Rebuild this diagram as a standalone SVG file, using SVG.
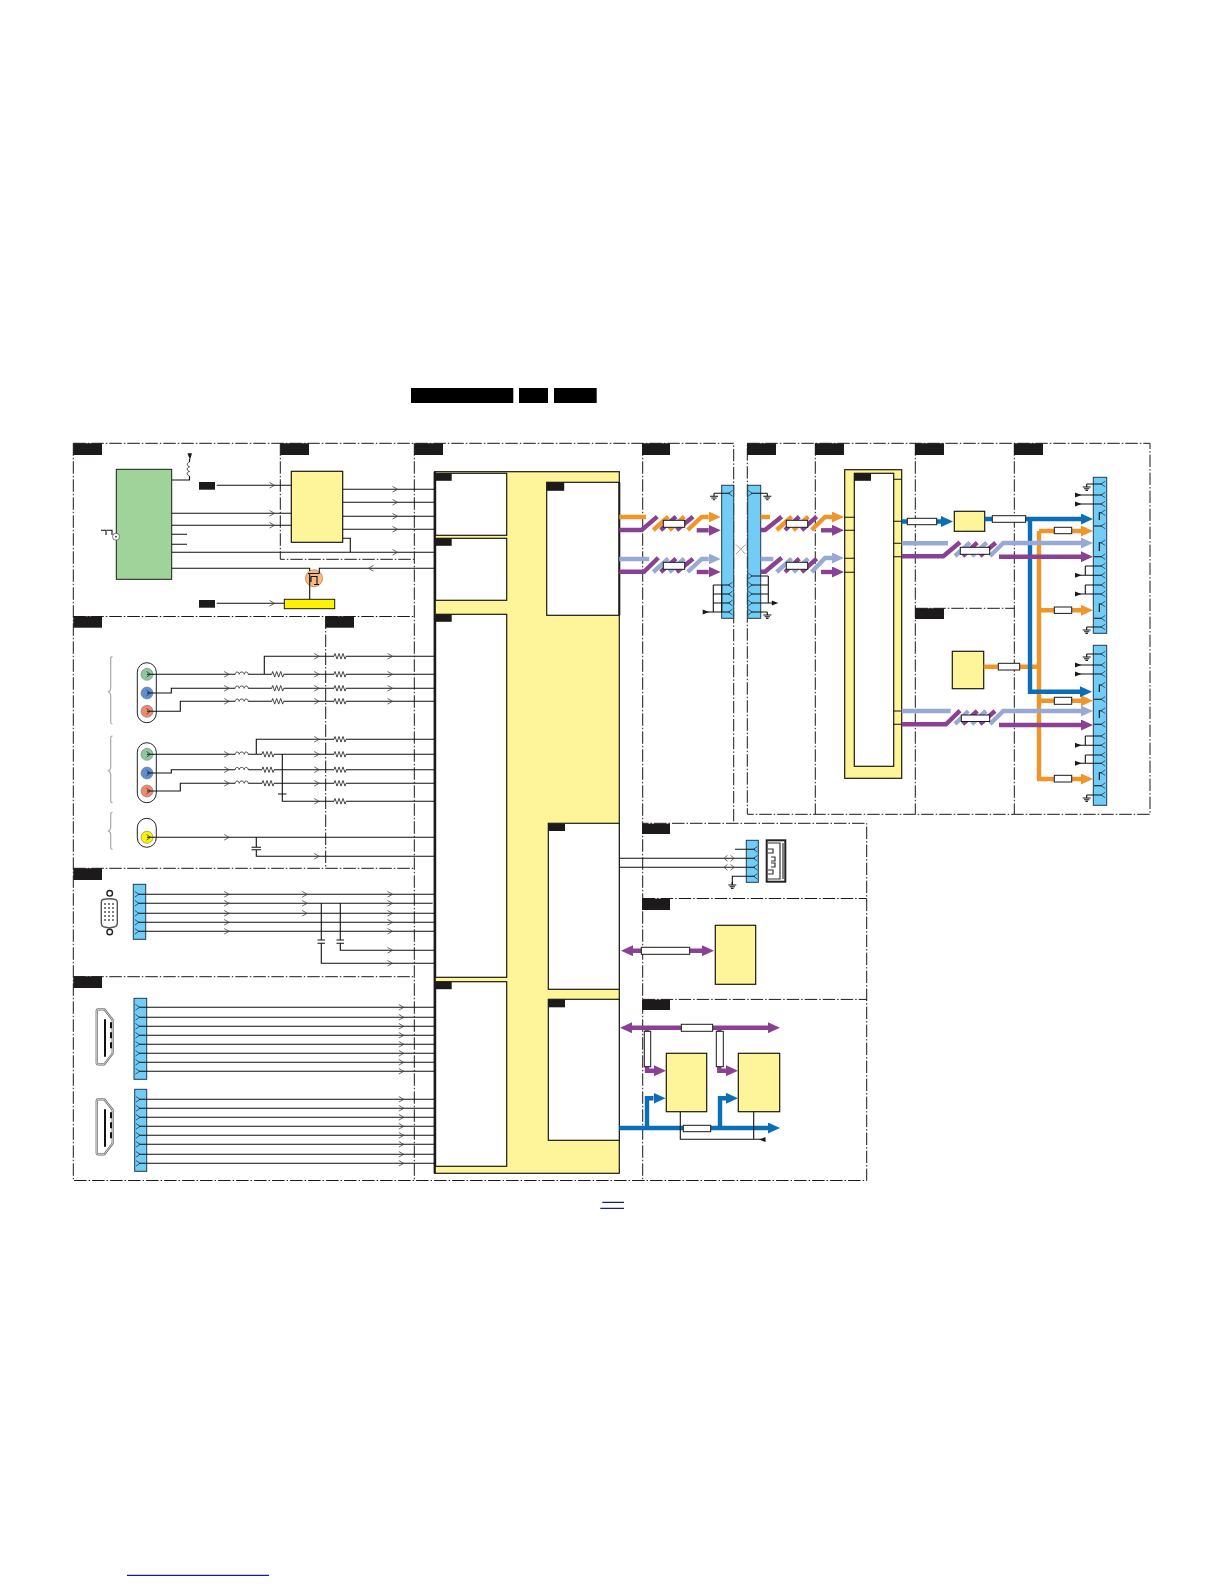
<svg xmlns="http://www.w3.org/2000/svg" width="1224" height="1584" viewBox="0 0 1224 1584">
<style>
.bg{fill:#fff}
.dd{fill:none;stroke:#1a1a1a;stroke-width:1;stroke-dasharray:12.5 2 1.5 2}
.tag{fill:#1c1a1a}
.y{fill:#fef59b;stroke:#1a1a12;stroke-width:1.2}
.w{fill:#fff;stroke:#1a1a12;stroke-width:1.2}
.c{fill:#72ccf3;stroke:#1d3b55;stroke-width:1}
.l{fill:none;stroke:#111;stroke-width:1.1}
.ch{fill:none;stroke:#444;stroke-width:.8}
.sk{fill:none;stroke:#1d3b55;stroke-width:.8}
.z{fill:none;stroke:#333;stroke-width:.9}
.wb{fill:none;stroke:#fff;stroke-width:3}
.b{fill:none;stroke-width:4.4}
.o{stroke:#f0952a}.p{stroke:#8a4093}.v{stroke:#97a9d4}.u{stroke:#0b6fb8}
.r{fill:#fff;stroke:#1a1a1a;stroke-width:1}
.tri{fill:#1a1a1a}
.gray{fill:none;stroke:#a8a8a8;stroke-width:1.2}
.link{stroke:#1a1a96;stroke-width:1.2;fill:none}
</style>
<defs>
<marker id="ao" markerUnits="userSpaceOnUse" markerWidth="12" markerHeight="11" refX="0" refY="5.5" orient="auto-start-reverse"><path d="M0,0L12,5.5L0,11Z" fill="#f0952a"/></marker>
<marker id="ap" markerUnits="userSpaceOnUse" markerWidth="12" markerHeight="11" refX="0" refY="5.5" orient="auto-start-reverse"><path d="M0,0L12,5.5L0,11Z" fill="#8a4093"/></marker>
<marker id="av" markerUnits="userSpaceOnUse" markerWidth="12" markerHeight="11" refX="0" refY="5.5" orient="auto-start-reverse"><path d="M0,0L12,5.5L0,11Z" fill="#97a9d4"/></marker>
<marker id="au" markerUnits="userSpaceOnUse" markerWidth="12" markerHeight="11" refX="0" refY="5.5" orient="auto-start-reverse"><path d="M0,0L12,5.5L0,11Z" fill="#0b6fb8"/></marker>
<path id="cr" class="ch" d="M-2.5,-2.8L2.5,0L-2.5,2.8"/>
<path id="cl" class="ch" d="M2.5,-2.8L-2.5,0L2.5,2.8"/>
<path id="sr" class="sk" d="M-2.5,-2.8L1.5,0L-2.5,2.8"/>
<path id="sl" class="sk" d="M2.5,-2.8L-1.5,0L2.5,2.8"/>
<g id="res"><path class="wb" d="M-6,0H6"/><path class="z" d="M-6,0l1,-2.8 2,5.6 2,-5.6 2,5.6 2,-5.6 2,5.6 1,-2.8"/></g>
<g id="coil"><path class="wb" d="M-6.5,0H6.5"/><path class="z" d="M-6.5,0c0,-3 4,-3 4,0c0,-3 5,-3 5,0c0,-3 4,-3 4,0"/></g>
<path id="gnd" class="l" d="M0,0V3M-4,3H4M-2.6,4.7H2.6M-1.2,6.4H1.2"/>
<path id="tl" class="tri" d="M0,0L6.5,-2.5V2.5Z"/>
<path id="tr" class="tri" d="M0,0L-6.5,-2.5V2.5Z"/>
<path id="dia" class="ch" d="M-5,0L-1.5,-3M-5,0L-1.5,3M5,0L1.5,-3M5,0L1.5,3"/>
<g id="hdmi"><path fill="#fff" stroke="#6a6a6a" stroke-width="2.2" stroke-linejoin="round" d="M96.7,1Q96.7,0 98,0H104.3L112.7,10.7V44L104.3,55H98Q96.7,55 96.7,54Z"/><path fill="none" stroke="#fff" stroke-width=".7" stroke-linejoin="round" d="M96.7,1Q96.7,0 98,0H104.3L112.7,10.7V44L104.3,55H98Q96.7,55 96.7,54Z"/><path d="M105,10V47.5" stroke="#111" stroke-width="2" fill="none"/><path d="M111,13V42" stroke="#111" stroke-width="2" stroke-dasharray="6 4" fill="none"/></g>
</defs>
<rect class="bg" width="1224" height="1584"/>

<g id="header">
<rect x="411" y="388" width="102.3" height="15" fill="#000"/>
<rect x="519" y="388" width="29" height="15" fill="#000"/>
<rect x="554" y="388" width="42.7" height="15" fill="#000"/>
</g>

<g id="frames">
<path class="dd" d="M73.3,443.3V1180.5H866.7V823.3H642.7M73.3,443.3H733.7V823M280.3,443.3V559.3H414.3M414.3,443.3V1180.5M642.7,443.3V1180.5M73.3,616.5H414.3M325.7,616.5V868.3M73.3,868.3H414.3M73.3,976.7H414.3M642.7,898.5H866.7M642.7,999.4H866.7"/>
<path class="dd" d="M747.3,443.3H1150V814.3H747.3ZM815.3,443.3V814.3M915.3,443.3V814.3M1014.3,443.3V814.3M915.3,608.3H1014.3"/>
</g>

<g id="tags">
<rect class="tag" x="73.3" y="443.3" width="28.7" height="11.7"/>
<rect class="tag" x="280.3" y="443.3" width="28.7" height="11.7"/>
<rect class="tag" x="414.3" y="443.3" width="28.7" height="11.7"/>
<rect class="tag" x="642" y="443.3" width="28" height="11.7"/>
<rect class="tag" x="747" y="443.3" width="29" height="11.7"/>
<rect class="tag" x="815" y="443.3" width="29" height="11.7"/>
<rect class="tag" x="915" y="443.3" width="29" height="11.7"/>
<rect class="tag" x="1014" y="443.3" width="29" height="11.7"/>
<rect class="tag" x="73.3" y="616.3" width="28.7" height="11.4"/>
<rect class="tag" x="325.3" y="616.3" width="28.7" height="11.4"/>
<rect class="tag" x="73.3" y="868.3" width="28.7" height="11.7"/>
<rect class="tag" x="73.3" y="976.3" width="28.7" height="11.7"/>
<rect class="tag" x="915" y="608.3" width="29" height="10.7"/>
<rect class="tag" x="642" y="823.7" width="28" height="10.3"/>
<rect class="tag" x="642" y="898.7" width="28" height="11.3"/>
<rect class="tag" x="642" y="999.6" width="28" height="10.4"/>
<rect class="tag" x="199" y="482" width="16" height="7.7"/>
<rect class="tag" x="199" y="600" width="16" height="7.7"/>
</g>

<g id="tuner"><rect x="116.3" y="469.3" width="55.4" height="110" fill="#a0d39a" stroke="#1a1a1a" stroke-width="1"/>
<circle cx="116" cy="536.7" r="3.5" fill="#fff" stroke="#555" stroke-width=".8"/><circle cx="116" cy="536.7" r=".9" fill="#333"/>
<path class="l" d="M101,530.3H106V535M107,530.3H112V535"/></g>
<g id="if-filter"><rect class="y" x="291.3" y="471.3" width="51.4" height="71"/></g>
<g id="switch"><rect x="284.3" y="599.3" width="50.4" height="9.4" fill="#fff200" stroke="#1a1a1a" stroke-width="1"/></g>
<g id="transistor"><circle cx="314" cy="578.3" r="8.5" fill="#f3bb82" stroke="#c8956a" stroke-width="1"/><path class="l" d="M308,573.5H319.3M309.7,573.5V586M319.3,573.5V569M311,576.5H317V584M314,584.5H319M311,576.5V582"/></g>

<g id="soc">
<rect class="y" x="434.7" y="471.7" width="184.6" height="701.6"/>
<path d="M434.7,471.7V1173.3" stroke="#1a1a1a" stroke-width="2.2" fill="none"/>
<rect class="w" x="435.6" y="473.3" width="71.1" height="62"/>
<rect class="w" x="435.6" y="538.3" width="71.1" height="62"/>
<rect class="w" x="435.6" y="614.3" width="71.1" height="363"/>
<rect class="w" x="435.6" y="981.7" width="71.1" height="184.6"/>
<rect class="w" x="546.7" y="482.3" width="72.6" height="133"/>
<rect class="w" x="548.3" y="823.3" width="71" height="166"/>
<rect class="w" x="548.3" y="999.3" width="71" height="141"/>
<path d="M619.3,482.3V615.3" stroke="#1a1a1a" stroke-width="2" fill="none"/>
<rect class="tag" x="434.7" y="473.3" width="17" height="7.5"/>
<rect class="tag" x="434.7" y="538.3" width="17" height="7.5"/>
<rect class="tag" x="434.7" y="614.3" width="17" height="7.5"/>
<rect class="tag" x="434.7" y="981.7" width="17" height="7.5"/>
<rect class="tag" x="546.7" y="482.3" width="17.5" height="8.5"/>
<rect class="tag" x="548.3" y="823.7" width="16.7" height="7.3"/>
<rect class="tag" x="548.3" y="999.3" width="16.7" height="8"/>
</g>

<g id="panel-block">
<rect class="y" x="844.7" y="469.7" width="57" height="308.6"/>
<rect class="w" x="854.3" y="473.3" width="39.4" height="293"/>
<rect class="tag" x="854" y="473.3" width="17" height="7.5"/>
</g>
<g id="box-a"><rect class="y" x="954.3" y="511.3" width="30.4" height="20"/></g>
<g id="box-b"><rect class="y" x="952.3" y="651.3" width="31.4" height="37.4"/></g>
<g id="box-c"><rect class="y" x="715.3" y="925.3" width="40.4" height="59"/></g>
<g id="box-d"><rect class="y" x="666.3" y="1053.3" width="40.4" height="58.4"/></g>
<g id="box-e"><rect class="y" x="738.3" y="1053.3" width="41.4" height="58.4"/></g>

<g id="rca-groups">
<path class="gray" d="M112.5,656.7C110.5,656.7 110.7,658 110.7,660V688C110.7,690 110,691 108.5,691.7C110,692.4 110.7,693.4 110.7,695.5V720C110.7,722.5 110.5,724 112.5,724"/>
<path class="gray" d="M112.5,736C110.5,736 110.7,737.5 110.7,739.5V767C110.7,769 110,770 108.5,770.7C110,771.4 110.7,772.4 110.7,774.5V799C110.7,801.5 110.5,802.7 112.5,802.7"/>
<path class="gray" d="M112.5,812.3C110.5,812.3 110.7,813.5 110.7,815.5V827.5C110.7,829.5 110,830.3 108.5,831C110,831.7 110.7,832.5 110.7,834.5V846C110.7,848 110.5,849.3 112.5,849.3"/>
<rect x="137.3" y="662.7" width="19" height="60" rx="9.5" fill="#fff" stroke="#222" stroke-width="1"/>
<rect x="137.3" y="742.7" width="19" height="60" rx="9.5" fill="#fff" stroke="#222" stroke-width="1"/>
<rect x="137.3" y="818.3" width="19" height="29" rx="9.5" fill="#fff" stroke="#222" stroke-width="1"/>
<circle cx="147" cy="674.3" r="6" fill="#8fc79a" stroke="#777" stroke-width=".6"/>
<circle cx="147" cy="693" r="6" fill="#5f8fd0" stroke="#777" stroke-width=".6"/>
<circle cx="147" cy="711.3" r="6" fill="#ef8a6a" stroke="#777" stroke-width=".6"/>
<circle cx="147" cy="754.3" r="6" fill="#8fc79a" stroke="#777" stroke-width=".6"/>
<circle cx="147" cy="773" r="6" fill="#5f8fd0" stroke="#777" stroke-width=".6"/>
<circle cx="147" cy="791" r="6" fill="#ef8a6a" stroke="#777" stroke-width=".6"/>
<circle cx="147" cy="837.3" r="6" fill="#fff200" stroke="#777" stroke-width=".6"/>
</g>

<g id="vga"><path fill="#fff" stroke="#555" stroke-width="1.4" d="M103,899.5Q109.3,898 115.5,899.5Q117.3,900 117.3,902.5V923Q117.3,926 115,926.7L109.3,928L103.5,926.7Q101.3,926 101.3,923V902.5Q101.3,900 103,899.5Z"/>
<circle cx="109.7" cy="893.3" r="2.8" fill="#fff" stroke="#222" stroke-width="1.4"/><circle cx="109.7" cy="932" r="2.8" fill="#fff" stroke="#222" stroke-width="1.4"/>
<g fill="#555"><circle cx="105" cy="904" r="1"/><circle cx="109" cy="904" r="1"/><circle cx="113" cy="904" r="1"/><circle cx="105" cy="908" r="1"/><circle cx="109" cy="908" r="1"/><circle cx="113" cy="908" r="1"/><circle cx="105" cy="912" r="1"/><circle cx="109" cy="912" r="1"/><circle cx="113" cy="912" r="1"/><circle cx="105" cy="916" r="1"/><circle cx="109" cy="916" r="1"/><circle cx="113" cy="916" r="1"/><circle cx="105" cy="920" r="1"/><circle cx="109" cy="920" r="1"/><circle cx="113" cy="920" r="1"/></g></g>
<g id="hdmi-1"><use href="#hdmi" y="1009.3"/></g>
<g id="hdmi-2"><use href="#hdmi" y="1099.3"/></g>
<g id="usb"><rect x="766.7" y="840.3" width="18.6" height="41.4" fill="#fff" stroke="#222" stroke-width="2"/><path fill="none" stroke="#333" stroke-width="1.2" d="M768,843H780V879H768M780,844V878M783,843V879M768,849H773V853H768M771,857H775V861H771M771,863H775V867H771M768,870H773V874H768"/></g>

<g id="conn-vga"><rect class="c" x="133.3" y="884.3" width="12.4" height="55"/></g>
<g id="conn-hdmi1"><rect class="c" x="134" y="998.3" width="12.7" height="81"/></g>
<g id="conn-hdmi2"><rect class="c" x="134.7" y="1089.3" width="12" height="82"/></g>
<g id="conn-lvds-a"><rect class="c" x="721.7" y="485.3" width="12" height="133"/></g>
<g id="conn-lvds-b"><rect class="c" x="747.7" y="485.3" width="13" height="133"/></g>
<g id="conn-panel-1"><rect class="c" x="1093.3" y="477.3" width="13.4" height="156"/></g>
<g id="conn-panel-2"><rect class="c" x="1093.3" y="645.3" width="13.4" height="160"/></g>
<g id="conn-usb"><rect class="c" x="746.3" y="840.3" width="12" height="42"/></g>

<g id="connectors">
<path class="l" d="M172,480H189.5V476M189.5,462V459M216.7,485.3H291.3M172,513.3H291.3M172,525.3H291.3M172,534.3H187M172,544.3H187M172,552.3H434.7M343,538.3H350.3V552.3M343,489.3H434.7M343,502.3H434.7M343,516.3H434.7M343,529.3H434.7M172,568.3H309.7V571M319.3,569V568.3H434.7M309.7,586V599.3M216.7,603.3H284.3"/>
<path class="z" d="M189.5,476c-3,-1 -3,-4 0,-4.5c-3,-1 -3,-4 0,-4.7c-3,-1 -3,-4 0,-4.8"/>
<path class="tri" d="M187.5,453.3H192L190,460Z"/>
<use href="#cr" x="272" y="485.3"/><use href="#cr" x="272" y="513.3"/><use href="#cr" x="272" y="525.3"/><use href="#cr" x="272" y="603.3"/>
<use href="#cr" x="395" y="489.3"/><use href="#cr" x="395" y="502.3"/><use href="#cr" x="395" y="516.3"/><use href="#cr" x="395" y="529.3"/><use href="#cr" x="395" y="552.3"/><use href="#cl" x="371" y="568.3"/>

<path class="l" d="M147,674.3H434.7M264.3,674.3V656.3H434.7M147,693H171.3V688.3H434.7M147,711.3H180.3V701.3H434.7M147,754.3H434.7M256.3,754.3V739.3H434.7M147,773H171.3V769.7H434.7M147,791H180.3V783.3H434.7M282.3,754.3V794M278,794H286.5M282.3,794V801.3H434.7M147,837.3H434.7M256.3,837.3V847.3M251.5,847.3H261M251.5,849.7H261M256.3,849.7V856.3H434.7"/>
<use href="#sr" x="149" y="674.3"/><use href="#sr" x="149" y="693"/><use href="#sr" x="149" y="711.3"/><use href="#sr" x="149" y="754.3"/><use href="#sr" x="149" y="773"/><use href="#sr" x="149" y="791"/><use href="#sr" x="149" y="837.3"/>
<use href="#cr" x="226.7" y="674.3"/><use href="#coil" x="241.7" y="674.3"/><use href="#res" x="277.7" y="674.3"/><use href="#cr" x="226.7" y="688.3"/><use href="#coil" x="241.7" y="688.3"/><use href="#res" x="277.7" y="688.3"/><use href="#cr" x="226.7" y="701.3"/><use href="#coil" x="241.7" y="701.3"/><use href="#res" x="277.7" y="701.3"/>
<use href="#cr" x="316.7" y="656.3"/><use href="#res" x="340" y="656.3"/><use href="#cr" x="390" y="656.3"/>
<use href="#cr" x="316.7" y="674.3"/><use href="#res" x="340" y="674.3"/><use href="#cr" x="390" y="674.3"/>
<use href="#cr" x="316.7" y="688.3"/><use href="#res" x="340" y="688.3"/><use href="#cr" x="390" y="688.3"/>
<use href="#cr" x="316.7" y="701.3"/><use href="#res" x="340" y="701.3"/><use href="#cr" x="390" y="701.3"/>
<use href="#cr" x="226.7" y="754.3"/><use href="#coil" x="241.7" y="754.3"/><use href="#res" x="268" y="754.3"/><use href="#cr" x="226.7" y="769.7"/><use href="#coil" x="241.7" y="769.7"/><use href="#res" x="268" y="769.7"/><use href="#cr" x="226.7" y="783.3"/><use href="#coil" x="241.7" y="783.3"/><use href="#res" x="268" y="783.3"/>
<use href="#cr" x="316.7" y="739.3"/><use href="#res" x="340" y="739.3"/><use href="#cr" x="316.7" y="754.3"/><use href="#res" x="340" y="754.3"/><use href="#cr" x="316.7" y="769.7"/><use href="#res" x="340" y="769.7"/><use href="#cr" x="316.7" y="783.3"/><use href="#res" x="340" y="783.3"/><use href="#cr" x="316.7" y="801.3"/><use href="#res" x="340" y="801.3"/>
<use href="#cr" x="226.7" y="837.3"/><use href="#cr" x="316.7" y="856.3"/>

<path class="l" d="M138,894.3H434.7M138,903.3H432.7M138,913.3H434.7M138,922.3H434.7M138,931.3H434.7M321.3,903.3V940M317.5,940H325M317.5,943.3H325M321.3,943.3V963.3H434.7M340.3,903.3V940M336.5,940H344M336.5,943.3H344M340.3,943.3V950.3H434.7"/>
<use href="#sr" x="137.3" y="894.3"/><use href="#sr" x="137.3" y="903.3"/><use href="#sr" x="137.3" y="913.3"/><use href="#sr" x="137.3" y="922.3"/><use href="#sr" x="137.3" y="931.3"/>
<use href="#cr" x="226.7" y="894.3"/><use href="#cr" x="226.7" y="903.3"/><use href="#cr" x="226.7" y="913.3"/><use href="#cr" x="226.7" y="922.3"/><use href="#cr" x="226.7" y="931.3"/>
<use href="#cr" x="304.7" y="894.3"/><use href="#cr" x="304.7" y="903.3"/><use href="#cr" x="304.7" y="913.3"/>
<use href="#cr" x="390" y="894.3"/><use href="#cr" x="390" y="903.3"/><use href="#cr" x="390" y="913.3"/><use href="#cr" x="390" y="922.3"/><use href="#cr" x="390" y="931.3"/><use href="#cr" x="390" y="950.3"/><use href="#cr" x="390" y="963.3"/>

<path class="l" d="M139,1007.3H434.7M139,1017.3H434.7M139,1026.3H434.7M139,1035.3H434.7M139,1044.3H434.7M139,1053.3H434.7M139,1062.3H434.7M139,1071.3H434.7M139,1099.3H434.7M139,1108.3H434.7M139,1117.3H434.7M139,1126.3H434.7M139,1135.3H434.7M139,1144.3H434.7M139,1154.3H434.7M139,1163.3H434.7"/>
<use href="#sr" x="138" y="1007.3"/><use href="#sr" x="138" y="1017.3"/><use href="#sr" x="138" y="1026.3"/><use href="#sr" x="138" y="1035.3"/><use href="#sr" x="138" y="1044.3"/><use href="#sr" x="138" y="1053.3"/><use href="#sr" x="138" y="1062.3"/><use href="#sr" x="138" y="1071.3"/>
<use href="#sr" x="138.5" y="1099.3"/><use href="#sr" x="138.5" y="1108.3"/><use href="#sr" x="138.5" y="1117.3"/><use href="#sr" x="138.5" y="1126.3"/><use href="#sr" x="138.5" y="1135.3"/><use href="#sr" x="138.5" y="1144.3"/><use href="#sr" x="138.5" y="1154.3"/><use href="#sr" x="138.5" y="1163.3"/>
<use href="#cr" x="401.3" y="1007.3"/><use href="#cr" x="401.3" y="1017.3"/><use href="#cr" x="401.3" y="1026.3"/><use href="#cr" x="401.3" y="1035.3"/><use href="#cr" x="401.3" y="1044.3"/><use href="#cr" x="401.3" y="1053.3"/><use href="#cr" x="401.3" y="1062.3"/><use href="#cr" x="401.3" y="1071.3"/>
<use href="#cr" x="401.3" y="1099.3"/><use href="#cr" x="401.3" y="1108.3"/><use href="#cr" x="401.3" y="1117.3"/><use href="#cr" x="401.3" y="1126.3"/><use href="#cr" x="401.3" y="1135.3"/><use href="#cr" x="401.3" y="1144.3"/><use href="#cr" x="401.3" y="1154.3"/><use href="#cr" x="401.3" y="1163.3"/>

<!-- LVDS left -->
<path class="b o" d="M619.3,517H646M653.3,530L668.3,516.7M669.3,530L684.3,516.7"/>
<path class="b p" d="M619.3,530H641.7L657.3,516.7M660.7,530L676,516.7M676.7,530L693,516.7"/>
<path class="b o" d="M687.7,530L701.7,517H708.7" marker-end="url(#ao)"/>
<path class="b p" d="M696.7,530.3H708.7" marker-end="url(#ap)"/>
<rect class="r" x="663.3" y="520.3" width="21.4" height="7"/>
<path class="b v" d="M619.3,559H649.3M653.3,572L668.3,558.7M669.3,572L684.3,558.7"/>
<path class="b p" d="M619.3,571.7H644L658.3,557.7M660.7,572L676,558.7M676.7,572L693,558.7"/>
<path class="b v" d="M687.7,572L701.7,559H708.7" marker-end="url(#av)"/>
<path class="b p" d="M696.7,572H708.7" marker-end="url(#ap)"/>
<rect class="r" x="663.3" y="562.3" width="21.4" height="7"/>
<path class="l" d="M714,493.3H730M703,612H730M713.3,585H730M713.3,594H730M713.3,603H730M713.3,585V612M721.7,585V612"/>
<use href="#gnd" x="714" y="493.3"/><use href="#tr" x="709.2" y="612"/>
<use href="#sl" x="730" y="493.3"/><use href="#sl" x="730" y="585"/><use href="#sl" x="730" y="594"/><use href="#sl" x="730" y="603"/><use href="#sl" x="730" y="612"/>
<path d="M736,544.5L745.5,554M745.5,544.5L736,554" stroke="#888" stroke-width=".8" fill="none"/>

<!-- LVDS right -->
<path class="l" d="M751,493.3H767.3M751,576H768.3M751,585H768.3M751,594H768.3M751,603H772M751,612H767.3M768.3,576V603"/>
<use href="#gnd" x="767.3" y="493.3"/><use href="#gnd" x="767.3" y="612"/><use href="#tr" x="778.3" y="603"/>
<use href="#sr" x="750.7" y="493.3"/><use href="#sr" x="750.7" y="576"/><use href="#sr" x="750.7" y="585"/><use href="#sr" x="750.7" y="594"/><use href="#sr" x="750.7" y="603"/><use href="#sr" x="750.7" y="612"/>
<path class="b o" d="M760.7,517H770M776.7,530L791.7,516.7M793.3,530L808.3,516.7"/>
<path class="b p" d="M760.7,530H765L781.7,516.7M785,530L799.3,516.7M801.7,530L816.7,516.7"/>
<path class="b o" d="M811.7,530L825,517H832" marker-end="url(#ao)"/>
<path class="b p" d="M821,530.3H832" marker-end="url(#ap)"/>
<rect class="r" x="786.3" y="520.3" width="21.4" height="7"/>
<path class="b v" d="M760.7,559H773.3M776.7,572L791.7,558.7M793.3,572L808.3,558.7"/>
<path class="b p" d="M760.7,571.7H765L781.7,557.7M785,572L799.3,558.7M801.7,572L816.7,558.7"/>
<path class="b v" d="M811.7,572L825,558H832" marker-end="url(#av)"/>
<path class="b p" d="M821,572H832" marker-end="url(#ap)"/>
<rect class="r" x="786.3" y="562.3" width="21.4" height="7"/>
<path class="l" d="M844.7,517.3H854.3M844.7,530.3H854.3M844.7,558.3H854.3M844.7,572.3H854.3M893.7,479.3H901.7M893.7,521.3H901.7M893.7,543.3H901.7M893.7,556.7H901.7M893.7,711H901.7M893.7,724.3H901.7"/>

<!-- panel buses -->
<path class="b o" d="M1039,531V779M1039,531H1081" marker-end="url(#ao)"/>
<path class="b o" d="M1039,610.3H1081" marker-end="url(#ao)"/>
<path class="b o" d="M1039,700.7H1081" marker-end="url(#ao)"/>
<path class="b o" d="M1037,779H1081" marker-end="url(#ao)"/>
<path class="b o" d="M983.7,666.7H1039"/>
<path class="b u" d="M901.7,521.5H941" marker-end="url(#au)"/>
<path class="b u" d="M984.7,519H1081" marker-end="url(#au)"/>
<path class="b u" d="M1030,519V691.7H1080" marker-end="url(#au)"/>
<path class="b v" d="M901.7,543.3H948M955,556L970,542.7M971.7,556L986.7,542.7"/>
<path class="b p" d="M901.7,556.3H943.3L960,542.3M962.7,556L977.3,542.7M980,556L995.7,542.7"/>
<path class="b v" d="M990,556L1003.3,543H1081" marker-end="url(#av)"/>
<path class="b p" d="M999,556.7H1081" marker-end="url(#ap)"/>
<rect class="r" x="960.3" y="547.3" width="29.4" height="7"/>
<path class="b v" d="M901.7,711H950.7M955,724L968.3,711M971.7,724L986,711"/>
<path class="b p" d="M901.7,724.3H946L960,710.7M962.7,724L977.3,711M980,724L995,711"/>
<path class="b v" d="M990,724L1003.3,711H1081" marker-end="url(#av)"/>
<path class="b p" d="M999,725H1081" marker-end="url(#ap)"/>
<rect class="r" x="961.3" y="715" width="28.4" height="6.5"/>
<rect class="r" x="907.3" y="518.3" width="29.4" height="6.4"/>
<rect class="r" x="992.3" y="515.7" width="33.4" height="6.6"/>
<rect class="r" x="1054.3" y="527.3" width="17.4" height="6.4"/>
<rect class="r" x="1054.3" y="607" width="17.4" height="6.4"/>
<rect class="r" x="1054.3" y="697.3" width="17.4" height="7"/>
<rect class="r" x="1054.3" y="775.3" width="17.4" height="6.7"/>
<rect class="r" x="998.3" y="663.3" width="21.4" height="6.7"/>

<path class="l" d="M1086.7,484H1102M1076,495H1102M1076,504H1102M1102,512.7H1099.3V520M1094,526H1102M1102,542.7H1099.3V551M1094,556.7H1102M1085.3,566H1102M1085.3,566V575.3M1076,575.3H1102M1085.3,585H1102M1085.3,585V594M1076,594H1102M1102,604H1099.3V612M1094,618.3H1102M1086.7,627H1102"/>
<use href="#gnd" x="1086.7" y="484"/><use href="#gnd" x="1086.7" y="627"/><use href="#tr" x="1081.5" y="495"/><use href="#tr" x="1081.5" y="504"/><use href="#tr" x="1081.5" y="575.3"/><use href="#tr" x="1081.5" y="594"/>
<use href="#sl" x="1102.7" y="484"/><use href="#sl" x="1102.7" y="495"/><use href="#sl" x="1102.7" y="504"/><use href="#sl" x="1102.7" y="512.7"/><use href="#sl" x="1102.7" y="526"/><use href="#sl" x="1102.7" y="542.7"/><use href="#sl" x="1102.7" y="556.7"/><use href="#sl" x="1102.7" y="566"/><use href="#sl" x="1102.7" y="575.3"/><use href="#sl" x="1102.7" y="585"/><use href="#sl" x="1102.7" y="594"/><use href="#sl" x="1102.7" y="604"/><use href="#sl" x="1102.7" y="618.3"/><use href="#sl" x="1102.7" y="627"/>
<path class="l" d="M1086.7,654H1102M1076,665H1102M1076,674H1102M1102,685H1099.3V692M1094,699.3H1102M1102,710.7H1099.3V718M1094,724.3H1102M1085.3,736H1102M1085.3,736V745.3M1076,745.3H1102M1085.3,755H1102M1085.3,755V763.3M1076,763.3H1102M1102,772.7H1099.3V780M1094,785.7H1102M1086.7,795H1102"/>
<use href="#gnd" x="1086.7" y="654"/><use href="#gnd" x="1086.7" y="795"/><use href="#tr" x="1081.5" y="665"/><use href="#tr" x="1081.5" y="674"/><use href="#tr" x="1081.5" y="745.3"/><use href="#tr" x="1081.5" y="763.3"/>
<use href="#sl" x="1102.7" y="654"/><use href="#sl" x="1102.7" y="665"/><use href="#sl" x="1102.7" y="674"/><use href="#sl" x="1102.7" y="685"/><use href="#sl" x="1102.7" y="699.3"/><use href="#sl" x="1102.7" y="710.7"/><use href="#sl" x="1102.7" y="724.3"/><use href="#sl" x="1102.7" y="736"/><use href="#sl" x="1102.7" y="745.3"/><use href="#sl" x="1102.7" y="755"/><use href="#sl" x="1102.7" y="763.3"/><use href="#sl" x="1102.7" y="772.7"/><use href="#sl" x="1102.7" y="785.7"/><use href="#sl" x="1102.7" y="795"/>

<!-- usb / memory -->
<path class="l" d="M735,849.3H755M619.3,858.3H755M619.3,867.3H755M732.3,885V876.3H755"/>
<use href="#gnd" x="732.3" y="882"/><use href="#dia" x="729" y="858.3"/><use href="#dia" x="729" y="867.3"/>
<use href="#sl" x="755" y="849.3"/><use href="#sl" x="755" y="858.3"/><use href="#sl" x="755" y="867.3"/><use href="#sl" x="755" y="876.3"/>
<path class="b p" d="M633,950.7H702" marker-start="url(#ap)" marker-end="url(#ap)"/>
<rect class="r" x="641.3" y="947.3" width="48.4" height="7"/>

<path class="b p" d="M632,1027.7H768" marker-start="url(#ap)" marker-end="url(#ap)"/>
<path class="b p" d="M647,1030V1070.7H654" marker-end="url(#ap)"/>
<path class="b p" d="M719.3,1030V1070.7H726" marker-end="url(#ap)"/>
<path class="b u" d="M619.3,1128H768" marker-end="url(#au)"/>
<path class="b u" d="M647,1128V1098.3H653.5" marker-end="url(#au)"/>
<path class="b u" d="M720,1128V1098.3H726" marker-end="url(#au)"/>
<rect class="r" x="681.3" y="1024.3" width="31.4" height="7"/>
<rect class="r" x="644.3" y="1031.3" width="6.4" height="35.4"/>
<rect class="r" x="716.3" y="1031.3" width="7" height="35.4"/>
<path class="l" d="M680.3,1111.7V1139.3H762M753.7,1111.7V1139.3"/>
<rect class="r" x="683.3" y="1125.3" width="27.4" height="6.4"/>
<use href="#tl" x="759" y="1139.6"/>
</g>

<g id="footer">
<path class="link" d="M602.3,1202.3H624M600.3,1208.3H624M127,1575.3H269"/>
</g>
</svg>
